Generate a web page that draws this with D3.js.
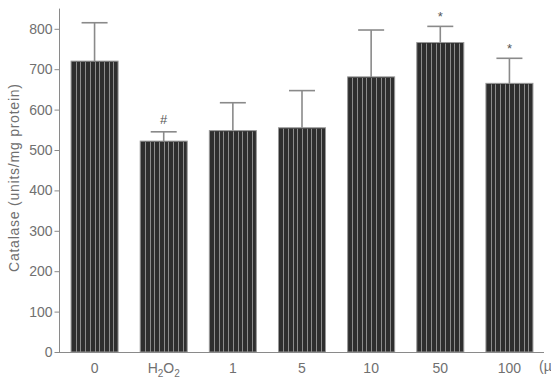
<!DOCTYPE html>
<html>
<head>
<meta charset="utf-8">
<script src="https://cdn.jsdelivr.net/npm/d3@7"></script>
<style>
  html, body { margin: 0; padding: 0; background: #fff; }
  svg { display: block; font-family: "Liberation Sans", Arial, sans-serif; }
</style>
</head>
<body>
<svg id="chart" width="551" height="382"></svg>
<script>
const categories = ["0", "H2O2", "1", "5", "10", "50", "100"];
const means = [720, 522, 548, 555, 681, 766, 665];
const errors = [95, 23, 69, 92, 116, 40, 62];
const marks = ["", "#", "", "", "", "*", "*"];
const yTicks = [0, 100, 200, 300, 400, 500, 600, 700, 800];
const yLabel = "Catalase (units/mg protein)";
const unitLabel = "(µM)";

const svg = d3.select("#chart");
const x = d3.scaleBand().domain(categories).range([60, 544]).paddingInner(0.32).paddingOuter(0.16);
const y = d3.scaleLinear().domain([0, 850]).range([352, 8.6]);

const axisColor = "#8a8a8a";
const textColor = "#707070";

// bars
const bars = svg.append("g");
categories.forEach((c, i) => {
  const x0 = x(c), w = x.bandwidth(), yt = y(means[i]), h = y(0) - yt;
  const g = bars.append("g");
  g.append("rect").attr("x", x0).attr("y", yt).attr("width", w).attr("height", h)
    .attr("fill", "#2e2e2e").attr("stroke", "#999").attr("stroke-width", 1);
  const n = 10;
  d3.range(1, n).forEach(k => {
    const xx = Math.round(x0 + k * w / n) + 0.5;
    g.append("line").attr("x1", xx).attr("x2", xx).attr("y1", yt + 1).attr("y2", y(0))
      .attr("stroke", "#8c8c8c").attr("stroke-width", 1);
  });
});

// error bars
const eb = svg.append("g").attr("stroke", "#8a8a8a").attr("stroke-width", 1.6);
categories.forEach((c, i) => {
  const cx = x(c) + x.bandwidth() / 2;
  eb.append("line").attr("x1", cx).attr("x2", cx).attr("y1", y(means[i])).attr("y2", y(means[i] + errors[i]));
  eb.append("line").attr("x1", cx - 13).attr("x2", cx + 13).attr("y1", y(means[i] + errors[i])).attr("y2", y(means[i] + errors[i]));
  if (marks[i]) {
    svg.append("text").attr("x", cx).attr("y", y(means[i] + errors[i]) - (marks[i] === "*" ? 5 : 8))
      .attr("text-anchor", "middle").attr("font-size", 13).attr("fill", "#555")
      .text(marks[i]);
  }
});

// y axis
const yAxis = d3.axisLeft(y).tickValues(yTicks).tickSize(5).tickPadding(2).tickSizeOuter(0);
const gy = svg.append("g").attr("transform", "translate(59.5,0)").call(yAxis);
gy.select(".domain").attr("stroke", axisColor).attr("d", `M0,${y(850)}V${y(0)}`);
gy.selectAll(".tick line").attr("stroke", axisColor);
gy.selectAll(".tick text").attr("fill", textColor).attr("font-size", 14)
  .attr("font-family", "Liberation Sans, Arial, sans-serif");

// x axis
const xAxis = d3.axisBottom(x).tickSize(0).tickPadding(11).tickSizeOuter(0);
const gx = svg.append("g").attr("transform", "translate(0,352.5)").call(xAxis);
gx.select(".domain").attr("stroke", axisColor).attr("d", "M59,0H544");
gx.selectAll(".tick text").attr("fill", textColor).attr("font-size", 14)
  .attr("font-family", "Liberation Sans, Arial, sans-serif")
  .each(function(d) {
    if (d === "H2O2") {
      const t = d3.select(this).text(null);
      t.append("tspan").text("H");
      t.append("tspan").attr("font-size", 10).attr("dy", 4).text("2");
      t.append("tspan").attr("dy", -4).text("O");
      t.append("tspan").attr("font-size", 10).attr("dy", 4).text("2");
    }
  });

svg.append("text").attr("x", 539).attr("y", 371).attr("fill", textColor)
  .attr("font-size", 14).text(unitLabel);

// y label
svg.append("text").attr("transform", "translate(19,178) rotate(-90)")
  .attr("text-anchor", "middle").attr("fill", textColor).attr("font-size", 14)
  .attr("textLength", 188).attr("lengthAdjust", "spacing")
  .text(yLabel);
</script>
</body>
</html>
